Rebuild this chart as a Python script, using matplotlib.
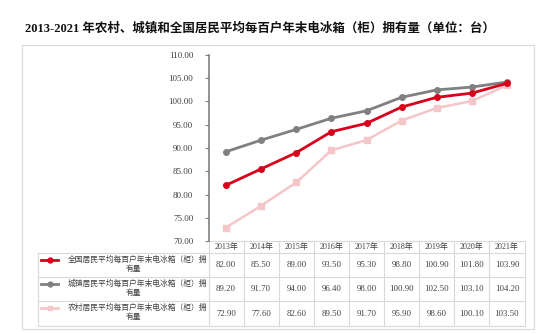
import matplotlib
matplotlib.use("Agg")
import matplotlib.pyplot as plt
from matplotlib.patches import Rectangle

plt.rcParams['font.family'] = ['Liberation Serif', 'Noto Sans CJK SC']

years = ['2013年', '2014年', '2015年', '2016年', '2017年', '2018年', '2019年', '2020年', '2021年']
national = [82.00, 85.50, 89.00, 93.50, 95.30, 98.80, 100.90, 101.80, 103.90]
urban = [89.20, 91.70, 94.00, 96.40, 98.00, 100.90, 102.50, 103.10, 104.20]
rural = [72.90, 77.60, 82.60, 89.50, 91.70, 95.90, 98.60, 100.10, 103.50]
series_names = ['全国居民平均每百户年末电冰箱（柜）拥', '城镇居民平均每百户年末电冰箱（柜）拥', '农村居民平均每百户年末电冰箱（柜）拥']
title = '2013-2021 年农村、城镇和全国居民平均每百户年末电冰箱（柜）拥有量（单位：台）'

colors = ['#D9001B', '#808080', '#F5C6C8']
markers = ['o', 'o', 's']
widths = [2.0, 2.0, 1.8]

W, H = 554, 334
fig = plt.figure(figsize=(W / 100, H / 100), dpi=100)

# pixel overlay for frame, title and data table
ov = fig.add_axes([0, 0, 1, 1], zorder=0)
ov.set_xlim(0, W)
ov.set_ylim(H, 0)
ov.axis('off')

ov.add_patch(Rectangle((22, 45), 512, 284, fill=False, ec='#D9D9D9', lw=0.8))
ov.text(260, 28, title, ha='center', va='center', fontsize=9, fontweight='bold', color='#111111')

# plot area
x0, x1 = 208.5, 524.5
y_top, y_bot = 55, 241
ax = fig.add_axes([x0 / W, 1 - y_bot / H, (x1 - x0) / W, (y_bot - y_top) / H], zorder=1)
ax.patch.set_alpha(0)
xs = list(range(len(years)))
for vals, c, m, lw in zip([national, urban, rural], colors, markers, widths):
    ax.plot(xs, vals, color=c, lw=lw, marker=m, markersize=4, zorder=3 if c == '#D9001B' else 2)
ax.set_xlim(-0.5, len(years) - 0.5)
ax.set_ylim(70, 110)
ax.set_yticks(range(70, 111, 5))
ax.set_yticklabels(['%.2f' % v for v in range(70, 111, 5)], fontsize=6.5, color='#404040')
ax.set_xticks([])
for s in ['top', 'right', 'bottom']:
    ax.spines[s].set_visible(False)
ax.spines['left'].set_color('#808080')
ax.spines['left'].set_linewidth(1.2)
ax.tick_params(axis='y', length=3, color='#808080', pad=8)

# table
grid = '#D9D9D9'
col_w = (x1 - x0) / len(years)
row_tops = [241, 253, 277, 301, 326]
leg_x = 38
# horizontal lines
ov.plot([x0, x1], [row_tops[0], row_tops[0]], color=grid, lw=0.8)
for y in row_tops[1:]:
    ov.plot([leg_x, x1], [y, y], color=grid, lw=0.8)
# vertical lines
for i in range(len(years) + 1):
    xx = x0 + i * col_w
    ov.plot([xx, xx], [row_tops[0], row_tops[-1]], color=grid, lw=0.8)
ov.plot([leg_x, leg_x], [row_tops[1], row_tops[-1]], color=grid, lw=0.8)

for i, yl in enumerate(years):
    ov.text(x0 + (i + 0.5) * col_w, (row_tops[0] + row_tops[1]) / 2, yl,
            ha='center', va='center', fontsize=5.8, color='#404040')

for r, (vals, name, c, m) in enumerate(zip([national, urban, rural], series_names, colors, markers)):
    top, bot = row_tops[r + 1], row_tops[r + 2]
    ly = top + 7
    ov.plot([41, 58], [ly, ly], color=c, lw=2.0)
    ov.plot([49.5], [ly], color=c, marker=m, markersize=3.5)
    ov.text(207, ly, name, ha='right', va='center', fontsize=5.6, color='#404040')
    ov.text(133, ly + 9.5, '有量', ha='center', va='center', fontsize=5.6, color='#404040')
    for i, v in enumerate(vals):
        ov.text(x0 + (i + 0.5) * col_w, (top + bot) / 2, '%.2f' % v,
                ha='center', va='center', fontsize=6.3, color='#404040')

fig.savefig('out.png', dpi=100)
